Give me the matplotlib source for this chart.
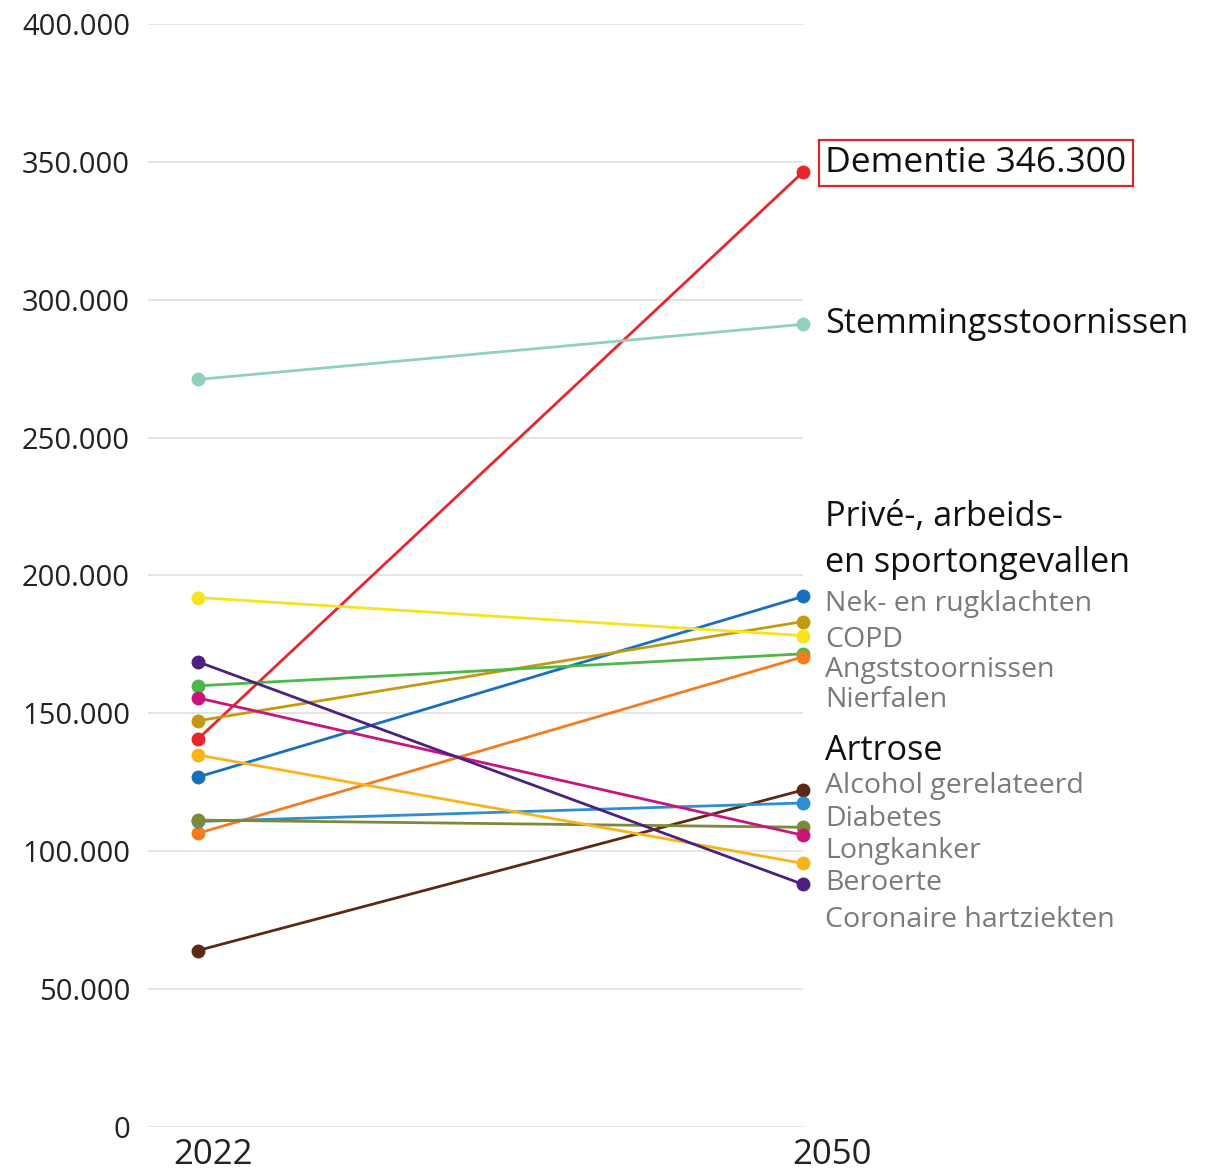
import matplotlib
matplotlib.use('Agg')
import matplotlib.pyplot as plt
import matplotlib.transforms as mtransforms

plt.rcParams['font.family'] = ['Open Sans', 'DejaVu Sans']

# Jaren
years = ['2022', '2050']

# Aandoeningen (volgorde zoals de labels rechts)
conditions = ['Dementie', 'Stemmingsstoornissen', 'Privé-, arbeids- en sportongevallen',
              'Nek- en rugklachten', 'COPD', 'Angststoornissen', 'Nierfalen', 'Artrose',
              'Alcohol gerelateerd', 'Diabetes', 'Longkanker', 'Beroerte',
              'Coronaire hartziekten']

values_2022 = [140700, 271100, 126900, 147300, 192000, 160000, 106500, 64000,
               110800, 111300, 155600, 134900, 168700]
values_2050 = [346300, 291100, 192400, 183300, 178200, 171600, 170500, 122200,
               117500, 108700, 105800, 95600, 88000]

colors = ['#e8262a', '#8fd1bd', '#1a6fbd', '#c49a12', '#f5e41e', '#4cb848', '#f47b20',
          '#5a2a14', '#2e8fd0', '#7a8a3a', '#c8157d', '#fbb31a', '#4b2180']

# Labels rechts: tekst, hoogte (in asse-eenheden), stijl
label_y = [350700, 292300, 214000, 190800, 177700, 166800, 155900, 137400,
           124700, 112800, 101200, 89600, 76200]
label_text = ['Dementie 346.300', 'Stemmingsstoornissen', 'Privé-, arbeids-\nen sportongevallen',
              'Nek- en rugklachten', 'COPD', 'Angststoornissen', 'Nierfalen', 'Artrose',
              'Alcohol gerelateerd', 'Diabetes', 'Longkanker', 'Beroerte',
              'Coronaire hartziekten']
label_bold = [True, True, True, False, False, False, False, True,
              False, False, False, False, False]

fig = plt.figure(figsize=(12.2, 11.72), dpi=100)
ax = fig.add_axes([148 / 1220, 1 - 1127 / 1172, (803 - 148) / 1220, (1127 - 24) / 1172])

xs = [0, 1]
for i in range(len(conditions)):
    ax.plot(xs, [values_2022[i], values_2050[i]], color=colors[i], lw=2.0,
            marker='o', markersize=9, clip_on=False, zorder=3)

ax.set_xlim(-50 / 606, 1.0)
ax.set_ylim(0, 400000)
ax.set_yticks(range(0, 400001, 50000))
ax.set_yticklabels(['0' if v == 0 else f'{v // 1000}.000' for v in range(0, 400001, 50000)])
ax.yaxis.grid(True, color='#e4e4e4', lw=1.4)
ax.set_axisbelow(True)
for s in ax.spines.values():
    s.set_visible(False)
ax.tick_params(axis='y', length=0, pad=13, labelsize=21, labelcolor='#222222')
ax.tick_params(axis='x', length=0, pad=8, labelsize=25, labelcolor='#222222')
ax.set_xticks(xs)
ax.set_xticklabels(years)
offsets = [15, 29]
for lab, dx in zip(ax.get_xticklabels(), offsets):
    lab.set_transform(lab.get_transform() + mtransforms.ScaledTranslation(dx / 100, 0, fig.dpi_scale_trans))

# Labels rechts
shift = mtransforms.ScaledTranslation(22 / 100, -3 / 100, fig.dpi_scale_trans)
for txt, y, bold in zip(label_text, label_y, label_bold):
    if bold:
        kw = dict(fontsize=24.7, color='#111111', linespacing=1.45)
    else:
        kw = dict(fontsize=20.5, color='#7a7a7a', linespacing=1.0)
    t = ax.text(1.0, y, txt, va='center', ha='left', **kw)
    t.set_transform(ax.transData + shift)
    if txt.startswith('Dementie'):
        t.set_fontsize(25.5)
        t.set_bbox(dict(boxstyle='square,pad=0.18', facecolor='white', edgecolor='#d42a2a', lw=1.6))

fig.savefig('out.png', dpi=100)
